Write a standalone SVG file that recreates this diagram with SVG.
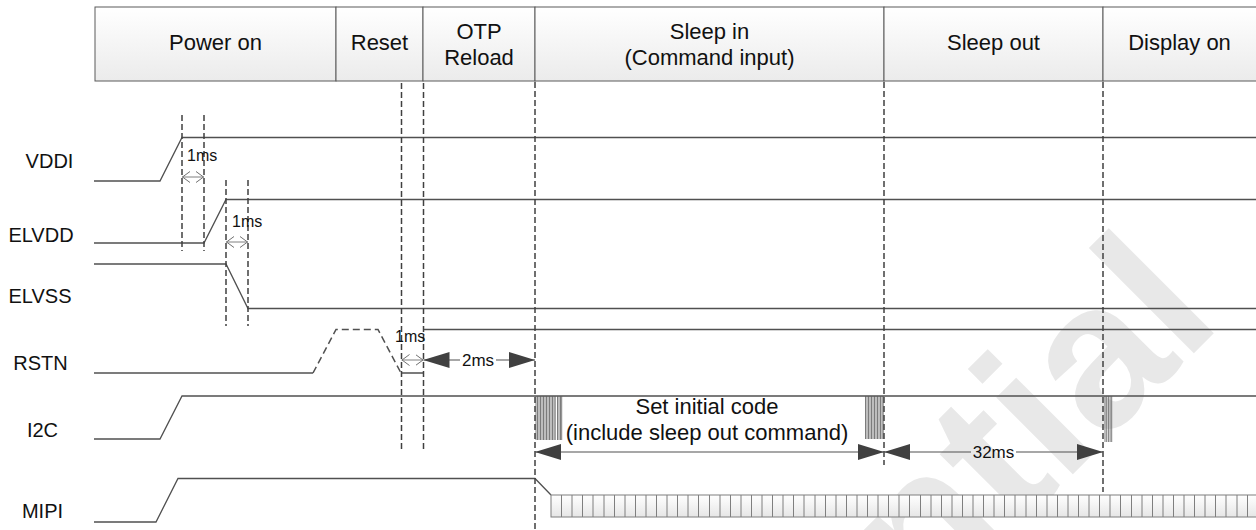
<svg xmlns="http://www.w3.org/2000/svg" width="1256" height="530" viewBox="0 0 1256 530">
<defs>
<style>
.t{font-family:"Liberation Sans",Arial,sans-serif;fill:#111}
.hdr{font-size:22px;text-anchor:middle}
.lbl{font-size:20px;text-anchor:middle}
.ms{font-size:16px}
.ms2{font-size:17px;text-anchor:middle}
.sig{fill:none;stroke:#505050;stroke-width:1.3}
.sigd{fill:none;stroke:#505050;stroke-width:1.5;stroke-dasharray:7,4}
.guide{fill:none;stroke:#404040;stroke-width:1.5;stroke-dasharray:6,3}
.cell{fill:url(#hdrGrad);stroke:#5a5a5a;stroke-width:1}
.burst{stroke:#5a5a5a;stroke-width:0.8}
.dim{fill:none;stroke:#505050;stroke-width:1.2}
.dimo{fill:none;stroke:#808080;stroke-width:1}
</style>
<linearGradient id="hdrGrad" x1="0" y1="0" x2="0" y2="1"><stop offset="0" stop-color="#ffffff"/><stop offset="1" stop-color="#ebebeb"/></linearGradient>
<linearGradient id="busGrad" x1="0" y1="0" x2="0" y2="1"><stop offset="0" stop-color="#ffffff"/><stop offset="1" stop-color="#e6e6e6"/></linearGradient>
<marker id="fa" viewBox="0 0 26 16" refX="26" refY="8" markerWidth="26" markerHeight="16" markerUnits="userSpaceOnUse" orient="auto-start-reverse"><path d="M0,0 L26,8 L0,16 Z" fill="#404040"/></marker>
<marker id="oa" viewBox="0 0 8 12" refX="8" refY="6" markerWidth="8" markerHeight="12" markerUnits="userSpaceOnUse" orient="auto-start-reverse"><path d="M0,0.5 L7.5,6 L0,11.5" fill="none" stroke="#707070" stroke-width="1"/></marker>
</defs>
<rect width="1256" height="530" fill="#ffffff"/>

<g id="watermark">
<text class="t" transform="translate(1224,323) rotate(-45)" text-anchor="end" font-size="205" font-weight="bold" style="fill:#e8e8e8">Confidential</text>
</g>

<g id="header">
<g id="hdr-power-on"><rect class="cell" x="95" y="7" width="241" height="74"/><text class="t hdr" x="215.5" y="50">Power on</text></g>
<g id="hdr-reset"><rect class="cell" x="336" y="7" width="87" height="74"/><text class="t hdr" x="379.5" y="50">Reset</text></g>
<g id="hdr-otp"><rect class="cell" x="423" y="7" width="112" height="74"/><text class="t hdr" x="479" y="39">OTP</text><text class="t hdr" x="479" y="65">Reload</text></g>
<g id="hdr-sleep-in"><rect class="cell" x="535" y="7" width="349" height="74"/><text class="t hdr" x="709.5" y="39">Sleep in</text><text class="t hdr" x="709.5" y="65">(Command input)</text></g>
<g id="hdr-sleep-out"><rect class="cell" x="884" y="7" width="219" height="74"/><text class="t hdr" x="993.5" y="50">Sleep out</text></g>
<g id="hdr-display-on"><rect class="cell" x="1103" y="7" width="160" height="74"/><text class="t hdr" x="1179.5" y="50">Display on</text></g>
</g>

<g id="sig-VDDI"><text class="t lbl" x="49.5" y="168">VDDI</text><path class="sig" d="M94,181 H160 L182,137.5 H1256"/></g>
<g id="sig-ELVDD"><text class="t lbl" x="41" y="242">ELVDD</text><path class="sig" d="M94,243 H204 L226,199.5 H1256"/></g>
<g id="sig-ELVSS"><text class="t lbl" x="40" y="303">ELVSS</text><path class="sig" d="M94,264 H226 L248,308.5 H1256"/></g>
<g id="sig-RSTN"><text class="t lbl" x="40.5" y="370">RSTN</text><path class="sig" d="M94,373 H313"/><path class="sigd" d="M313,373 L336,329.5 H378 L401,373"/><path class="sig" d="M401,373 H423 M423,329.5 H1256"/></g>
<g id="sig-I2C"><text class="t lbl" x="42.5" y="437">I2C</text><path class="sig" d="M94,439 H160 L182,396 H1256"/>
<path class="burst" d="M536,396v44 M537.5,396v44 M539,396v44 M540.5,396v44 M542,396v44 M543.5,396v44 M545,396v44 M546.5,396v44 M548,396v44 M549.5,396v44 M551,396v44 M552.5,396v44 M554,396v44 M555.2,396v44 M557.5,396v44 M559,396v44 M560.5,396v44 M561.7,396v44"/>
<path class="burst" d="M865.5,396v43 M867,396v43 M868.5,396v43 M870,396v43 M871.5,396v43 M873,396v43 M874.5,396v43 M876,396v43 M877.5,396v43 M879,396v43 M880.5,396v43 M882,396v43 M883.2,396v43"/>
<path class="burst" d="M1105,396v46 M1106.7,396v46 M1108.4,396v46 M1110.1,396v46 M1111.7,396v46"/>
</g>
<g id="sig-MIPI"><text class="t lbl" x="42.5" y="518">MIPI</text><path class="sig" d="M94,522 H156 L178,478.5 H535 L551,495"/>
<rect x="551" y="495" width="710" height="22" fill="url(#busGrad)" stroke="#7f7f7f" stroke-width="1"/>
<path stroke="#7f7f7f" stroke-width="1" d="M561.5,495v22M572,495v22M582.5,495v22M593,495v22M604,495v22M614.5,495v22M625,495v22M635.5,495v22M646,495v22M656.5,495v22M667,495v22M677.5,495v22M688,495v22M698.5,495v22M709.5,495v22M720,495v22M730.5,495v22M741,495v22M751.5,495v22M762,495v22M772.5,495v22M783,495v22M793.5,495v22M804,495v22M815,495v22M825.5,495v22M836,495v22M846.5,495v22M857,495v22M867.5,495v22M878,495v22M888.5,495v22M899,495v22M909.5,495v22M920.5,495v22M931,495v22M941.5,495v22M952,495v22M962.5,495v22M973,495v22M983.5,495v22M994,495v22M1004.5,495v22M1015,495v22M1026,495v22M1036.5,495v22M1047,495v22M1057.5,495v22M1068,495v22M1078.5,495v22M1089,495v22M1099.5,495v22M1110,495v22M1120.5,495v22M1131.5,495v22M1142,495v22M1152.5,495v22M1163,495v22M1173.5,495v22M1184,495v22M1194.5,495v22M1205,495v22M1215.5,495v22M1226,495v22M1237,495v22M1247.5,495v22"/>
</g>

<g id="connectors">
<path class="guide" d="M182,115 V251 M204,115 V251"/>
<path class="guide" d="M226,180 V326 M248,180 V326"/>
<path class="guide" d="M401.5,83 V452 M423.5,83 V452"/>
<path class="guide" d="M535,82 V530"/>
<path class="guide" d="M884,82 V465"/>
<path class="guide" d="M1103,82 V492"/>
<path class="dimo" d="M182,177 H204" marker-start="url(#oa)" marker-end="url(#oa)"/>
<text class="t ms" x="187" y="161">1ms</text>
<path class="dimo" d="M226,242 H248" marker-start="url(#oa)" marker-end="url(#oa)"/>
<text class="t ms" x="232" y="227">1ms</text>
<path class="dimo" d="M401.5,360 H423.5" marker-start="url(#oa)" marker-end="url(#oa)"/>
<text class="t ms" x="395" y="342">1ms</text>
<path class="dim" d="M423.5,360 H460 M496,360 H535" marker-start="url(#fa)" marker-end="url(#fa)"/>
<text class="t ms2" x="478" y="366">2ms</text>
<path class="dim" d="M535,452 H884" marker-start="url(#fa)" marker-end="url(#fa)"/>
<text class="t hdr" x="707" y="414">Set initial code</text>
<text class="t hdr" x="707" y="440">(include sleep out command)</text>
<path class="dim" d="M884,452 H971 M1016,452 H1103" marker-start="url(#fa)" marker-end="url(#fa)"/>
<text class="t ms2" x="993.5" y="458">32ms</text>
</g>
</svg>
